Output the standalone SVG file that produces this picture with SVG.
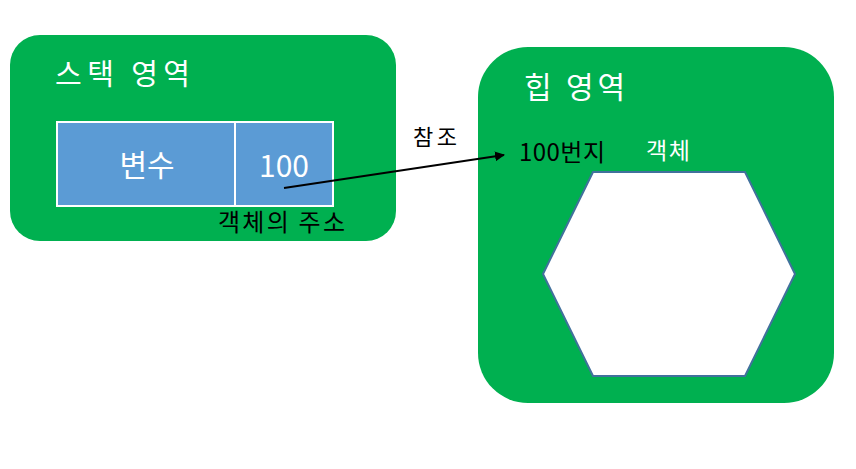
<svg xmlns="http://www.w3.org/2000/svg" width="856" height="469" viewBox="0 0 856 469">
<style>
.area{fill:#00b050;}
.cell{fill:#5b9bd5;stroke:#fff;stroke-width:2;}
text{font-family:"Noto Sans CJK KR","Noto Sans",sans-serif;}
.wt{fill:#fff;}
.bk{fill:#000;}
</style>
<defs>
<marker id="ah" viewBox="0 0 10 10" refX="9" refY="5" markerWidth="10" markerHeight="10" markerUnits="userSpaceOnUse" orient="auto">
<path d="M0,0 L10,5 L0,10 z" fill="#000"/>
</marker>
</defs>
<rect width="856" height="469" fill="#fff"/>
<g id="stack">
<rect class="area" x="10" y="35" width="386" height="206" rx="30"/>
<text class="wt" x="55" y="85" font-size="29" textLength="135" lengthAdjust="spacing">스택 영역</text>
</g>
<g id="variable">
<rect class="cell" x="57" y="122" width="178" height="84"/>
<text class="wt" x="147" y="176" font-size="30" text-anchor="middle">변수</text>
</g>
<g id="value">
<rect class="cell" x="235" y="122" width="98" height="84"/>
<text class="wt" x="284" y="177" font-size="30" text-anchor="middle">100</text>
</g>
<g id="addr-label">
<text class="bk" x="218" y="231" font-size="24" textLength="127" lengthAdjust="spacing">객체의 주소</text>
</g>
<g id="heap">
<rect class="area" x="478" y="47" width="356" height="356" rx="50"/>
<text class="wt" x="524" y="98" font-size="30" textLength="101" lengthAdjust="spacing">힙 영역</text>
<text class="bk" x="519" y="161" font-size="24" textLength="86" lengthAdjust="spacing">100번지</text>
<text class="wt" x="646" y="159" font-size="23" textLength="44" lengthAdjust="spacing">객체</text>
</g>
<g id="object">
<polygon points="593,172 745,172 795,274 745,376 593,376 543,274" fill="#fff" stroke="#41719c" stroke-width="2"/>
</g>
<g id="connectors">
<line x1="284" y1="188" x2="504" y2="155" stroke="#000" stroke-width="2" marker-end="url(#ah)"/>
<text class="bk" x="413" y="145" font-size="22" textLength="44" lengthAdjust="spacing">참조</text>
</g>
</svg>
